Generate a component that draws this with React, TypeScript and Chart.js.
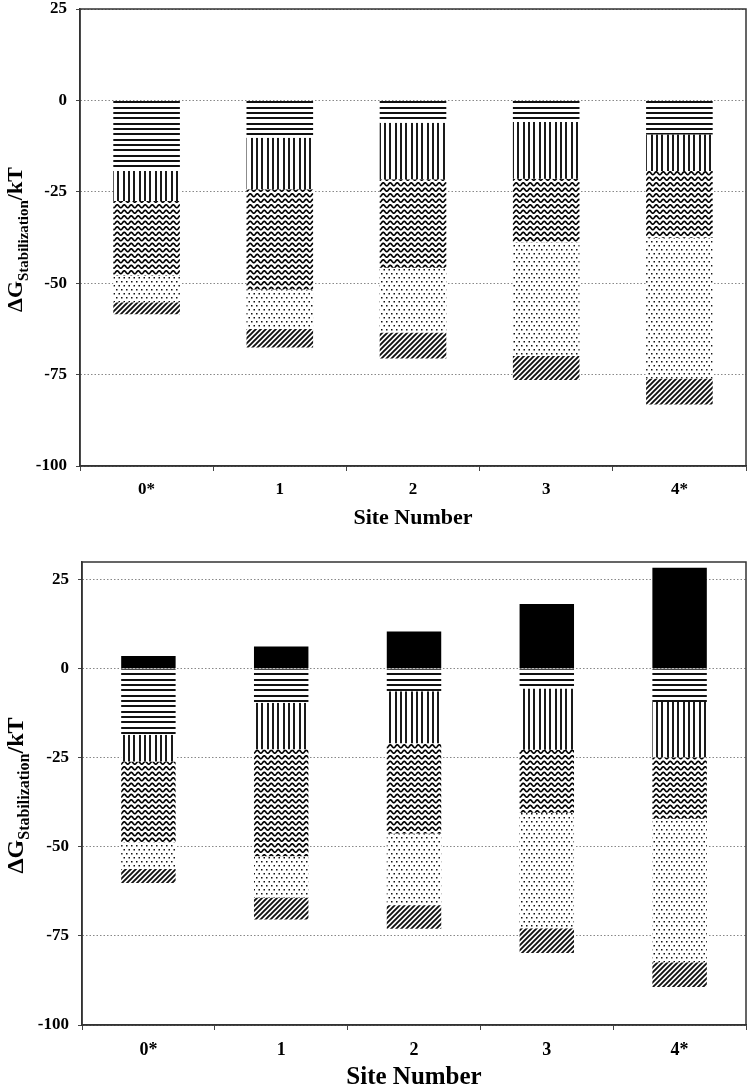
import React, { useEffect, useRef } from 'react';
import { Chart, registerables } from 'chart.js';

Chart.register(...registerables);

const FONT = "'Liberation Serif', 'Times New Roman', serif";

const SITES = ['0*', '1', '2', '3', '4*'];
const Y_TICKS = [-100, -75, -50, -25, 0, 25];
const X_TITLE = 'Site Number';
const Y_TITLE_MAIN = '\u0394G';
const Y_TITLE_SUB = 'Stabilization';
const Y_TITLE_END = '/kT';

// Upper panel: contributions (kT) of each term, stacked downward from 0
const topHoriz = [-19.3, -10.2, -6.1, -5.9, -9.3];
const topVert = [-8.2, -14.1, -15.5, -15.5, -10.0];
const topWavy = [-20.5, -27.4, -24.2, -17.4, -18.3];
const topDots = [-7.2, -10.8, -17.7, -31.1, -38.5];
const topHatch = [-3.3, -5.1, -7.1, -6.6, -7.1];

// Lower panel
const botSolid = [3.6, 6.3, 10.5, 18.2, 28.4];
const botHoriz = [-18.5, -9.5, -6.3, -5.5, -9.3];
const botVert = [-7.5, -13.1, -14.6, -17.2, -15.5];
const botWavy = [-22.7, -30.0, -25.3, -17.7, -17.3];
const botDots = [-7.5, -11.6, -20.2, -32.4, -40.3];
const botHatch = [-3.9, -6.2, -6.6, -7.0, -6.9];

function tile(w: number, h: number, draw: (c: CanvasRenderingContext2D) => void): CanvasPattern {
  const cv = document.createElement('canvas');
  cv.width = w;
  cv.height = h;
  const c = cv.getContext('2d') as CanvasRenderingContext2D;
  c.fillStyle = '#fff';
  c.fillRect(0, 0, w, h);
  draw(c);
  const ctx = document.createElement('canvas').getContext('2d') as CanvasRenderingContext2D;
  return ctx.createPattern(cv, 'repeat') as CanvasPattern;
}

function makePatterns() {
  const horiz = tile(8, 16, (c) => {
    c.fillStyle = '#111';
    c.fillRect(0, 0, 8, 2);
    c.fillRect(0, 5, 8, 2);
    c.fillRect(0, 11, 8, 2);
  });
  const vert = tile(16, 8, (c) => {
    c.fillStyle = '#1a1a1a';
    c.fillRect(0, 0, 2, 8);
    c.fillRect(5, 0, 2, 8);
    c.fillRect(11, 0, 2, 8);
  });
  const wavy = tile(7, 11, (c) => {
    c.strokeStyle = '#000';
    c.lineWidth = 1.7;
    const rows = [-2.75, 2.75, 8.25, 13.75];
    for (const y0 of rows) {
      c.beginPath();
      for (let x = -1; x <= 8; x += 0.25) {
        const y = y0 + 1.4 * Math.sin((x / 7) * Math.PI * 2);
        if (x === -1) c.moveTo(x, y);
        else c.lineTo(x, y);
      }
      c.stroke();
    }
  });
  const dots = tile(10, 8, (c) => {
    c.fillStyle = '#111';
    c.fillRect(1, 1, 1.5, 1.5);
    c.fillRect(6, 1, 1.5, 1.5);
    c.fillRect(3.5, 5, 1.5, 1.5);
    c.fillRect(8.5, 5, 1.5, 1.5);
  });
  const hatch = tile(5, 5, (c) => {
    c.strokeStyle = '#111';
    c.lineWidth = 1.9;
    c.beginPath();
    c.moveTo(-1, 6);
    c.lineTo(6, -1);
    c.moveTo(-3.5, 3.5);
    c.lineTo(3.5, -3.5);
    c.moveTo(1.5, 8.5);
    c.lineTo(8.5, 1.5);
    c.stroke();
  });
  return { horiz, vert, wavy, dots, hatch };
}

const boxPlugin = {
  id: 'box',
  afterDatasetsDraw(chart: any) {
    const { ctx, chartArea: a } = chart;
    ctx.save();
    ctx.strokeStyle = '#333';
    ctx.lineWidth = 1.5;
    ctx.strokeRect(a.left, a.top, a.right - a.left, a.bottom - a.top);
    ctx.restore();
  },
};

const yTitlePlugin = {
  id: 'yTitle',
  afterDraw(chart: any, _args: any, opts: any) {
    const { ctx, chartArea } = chart;
    const cy = (chartArea.top + chartArea.bottom) / 2 + (opts.dy || 0);
    const mainF = `bold ${opts.main}px ${FONT}`;
    const subF = `bold ${opts.sub}px ${FONT}`;
    ctx.save();
    ctx.fillStyle = '#000';
    ctx.textBaseline = 'alphabetic';
    ctx.textAlign = 'left';
    ctx.font = mainF;
    const w1 = ctx.measureText(Y_TITLE_MAIN).width;
    const w3 = ctx.measureText(Y_TITLE_END).width;
    ctx.font = subF;
    const w2 = ctx.measureText(Y_TITLE_SUB).width;
    const total = w1 + w2 + w3;
    ctx.translate(opts.x, cy);
    ctx.rotate(-Math.PI / 2);
    let x = -total / 2;
    ctx.font = mainF;
    ctx.fillText(Y_TITLE_MAIN, x, 0);
    x += w1;
    ctx.font = subF;
    ctx.fillText(Y_TITLE_SUB, x, opts.shift);
    x += w2;
    ctx.font = mainF;
    ctx.fillText(Y_TITLE_END, x, 0);
    ctx.restore();
  },
};

type PanelCfg = {
  height: number;
  padTop: number;
  padRight: number;
  yWidth: number;
  xHeight: number;
  max: number;
  barPct: number;
  tickFont: number;
  xTickFont: number;
  yTickPad: number;
  xTickPad: number;
  xTitleFont: number;
  xTitlePad: number;
  yTitle: { main: number; sub: number; x: number; shift: number; dy?: number };
  series: { data: number[]; fill: string }[];
};

function Panel({ cfg }: { cfg: PanelCfg }) {
  const ref = useRef<HTMLCanvasElement>(null);
  useEffect(() => {
    const pats: any = makePatterns();
    const fills: any = { ...pats, solid: '#000' };
    const chart = new Chart(ref.current as HTMLCanvasElement, {
      type: 'bar',
      data: {
        labels: SITES,
        datasets: cfg.series.map((s) => ({
          data: s.data,
          backgroundColor: fills[s.fill],
          borderWidth: 0,
          categoryPercentage: 1,
          barPercentage: cfg.barPct,
        })),
      },
      options: {
        responsive: false,
        devicePixelRatio: 1,
        animation: false,
        events: [],
        layout: { padding: { top: cfg.padTop, right: cfg.padRight, left: 0, bottom: 0 } },
        plugins: {
          legend: { display: false },
          tooltip: { enabled: false },
          yTitle: cfg.yTitle,
        } as any,
        scales: {
          x: {
            stacked: true,
            offset: true,
            grid: {
              drawOnChartArea: false,
              drawTicks: true,
              tickLength: 5,
              offset: true,
              tickColor: '#444',
              tickWidth: 1,
            },
            border: { display: true, color: '#333', width: 1.5 },
            ticks: {
              color: '#000',
              padding: cfg.xTickPad,
              font: { family: FONT, size: cfg.xTickFont, weight: 'bold' },
            },
            title: {
              display: true,
              text: X_TITLE,
              color: '#000',
              font: { family: FONT, size: cfg.xTitleFont, weight: 'bold', lineHeight: 1 },
              padding: { top: 0, bottom: cfg.xTitlePad },
            },
            afterFit: (s: any) => {
              s.height = cfg.xHeight;
              s.paddingLeft = 0;
              s.paddingRight = 0;
            },
          },
          y: {
            stacked: true,
            min: -100,
            max: cfg.max,
            afterBuildTicks: (s: any) => {
              s.ticks = Y_TICKS.map((v) => ({ value: v }));
            },
            grid: {
              color: '#888',
              lineWidth: 1,
              drawTicks: true,
              tickLength: 4,
              tickColor: '#444',
              tickWidth: 1,
              tickBorderDash: [],
            },
            border: { display: true, color: '#333', width: 1.5, dash: [1.5, 2] },
            ticks: {
              color: '#000',
              padding: cfg.yTickPad,
              font: { family: FONT, size: cfg.tickFont, weight: 'bold' },
            },
            afterFit: (s: any) => {
              s.width = cfg.yWidth;
              s.paddingTop = 0;
              s.paddingBottom = 0;
            },
          },
        },
      } as any,
      plugins: [boxPlugin, yTitlePlugin] as any,
    });
    return () => chart.destroy();
  }, [cfg]);
  return <canvas ref={ref} width={751} height={cfg.height} style={{ display: 'block' }} />;
}

const TOP_CFG: PanelCfg = {
  height: 540,
  padTop: 9,
  padRight: 5,
  yWidth: 80,
  xHeight: 74,
  max: 25,
  barPct: 0.5,
  tickFont: 17,
  xTickFont: 17,
  yTickPad: 9,
  xTickPad: 8,
  xTitleFont: 22,
  xTitlePad: 11,
  yTitle: { main: 22, sub: 15, x: 22, shift: 6, dy: 2 },
  series: [
    { data: topHoriz, fill: 'horiz' },
    { data: topVert, fill: 'vert' },
    { data: topWavy, fill: 'wavy' },
    { data: topDots, fill: 'dots' },
    { data: topHatch, fill: 'hatch' },
  ],
};

const BOT_CFG: PanelCfg = {
  height: 552,
  padTop: 22,
  padRight: 5,
  yWidth: 82,
  xHeight: 67,
  max: 30,
  barPct: 0.41,
  tickFont: 17,
  xTickFont: 18,
  yTickPad: 9,
  xTickPad: 10,
  xTitleFont: 25,
  xTitlePad: 2,
  yTitle: { main: 24, sub: 16, x: 23, shift: 6, dy: 2 },
  series: [
    { data: botSolid, fill: 'solid' },
    { data: botHoriz, fill: 'horiz' },
    { data: botVert, fill: 'vert' },
    { data: botWavy, fill: 'wavy' },
    { data: botDots, fill: 'dots' },
    { data: botHatch, fill: 'hatch' },
  ],
};

export default function App() {
  return (
    <div style={{ position: 'absolute', left: 0, top: 0, width: 751, height: 1092, background: '#fff' }}>
      <Panel cfg={TOP_CFG} />
      <Panel cfg={BOT_CFG} />
    </div>
  );
}
